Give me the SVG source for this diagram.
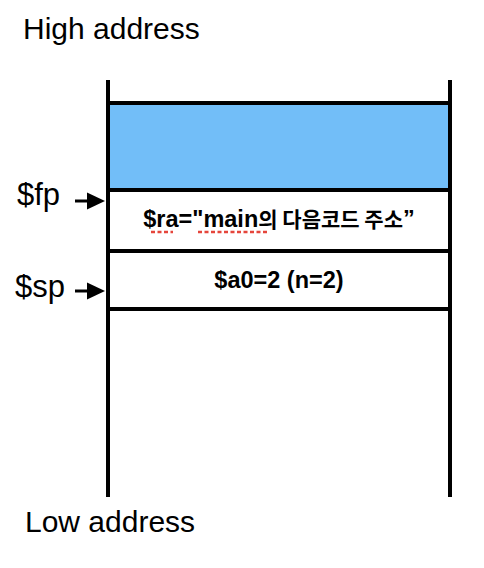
<svg xmlns="http://www.w3.org/2000/svg" width="484" height="568" viewBox="0 0 484 568">
  <style>
    .lbl { font-family: "Liberation Sans", Arial, sans-serif; font-size: 30px; fill: #000; }
    .reg { font-family: "Liberation Sans", Arial, sans-serif; font-size: 31px; fill: #000; }
    .cell { font-family: "Liberation Sans", "Noto Sans CJK KR", sans-serif; font-size: 23.5px; font-weight: bold; fill: #000; text-anchor: middle; }
    .ko { font-family: "Noto Sans CJK KR", sans-serif; font-size: 21px; font-weight: bold; }
    .wall { stroke: #000; stroke-width: 4; fill: none; }
    .arrow { stroke: #000; stroke-width: 3; fill: none; }
    .squig { stroke: #e5453b; stroke-width: 2.5; stroke-dasharray: 4 2.5; fill: none; }
  </style>
  <rect width="484" height="568" fill="#fff"/>

  <g id="high-address">
    <text class="lbl" x="23" y="39">High address</text>
  </g>
  <g id="low-address">
    <text class="lbl" x="25" y="532">Low address</text>
  </g>

  <g id="stack">
    <rect x="108" y="103" width="342" height="87" fill="#72BEF8"/>
    <line class="wall" x1="108" y1="80" x2="108" y2="497"/>
    <line class="wall" x1="450" y1="80" x2="450" y2="497"/>
    <line class="wall" x1="108" y1="103" x2="450" y2="103"/>
    <line class="wall" x1="108" y1="190" x2="450" y2="190"/>
    <line class="wall" x1="108" y1="251" x2="450" y2="251"/>
    <line class="wall" x1="108" y1="309" x2="450" y2="309"/>
  </g>

  <g id="frame-ra">
    <text class="cell" x="279" y="227">$ra="main<tspan class="ko">의 다음코드 주소</tspan>”</text>
    <line class="squig" x1="151" y1="232" x2="173" y2="232"/>
    <line class="squig" x1="198" y1="232" x2="268" y2="232"/>
  </g>
  <g id="frame-a0">
    <text class="cell" x="279" y="288">$a0=2 (n=2)</text>
  </g>

  <g id="fp">
    <text class="reg" x="17" y="205">$fp</text>
  </g>
  <g id="sp">
    <text class="reg" x="15" y="297">$sp</text>
  </g>

  <g id="connectors">
    <line x1="75" y1="201" x2="90" y2="201" class="arrow"/>
    <polygon points="87,192.5 105,201 87,209.5" fill="#000"/>
    <line x1="75" y1="291" x2="90" y2="291" class="arrow"/>
    <polygon points="87,282.5 105,291 87,299.5" fill="#000"/>
  </g>
</svg>
